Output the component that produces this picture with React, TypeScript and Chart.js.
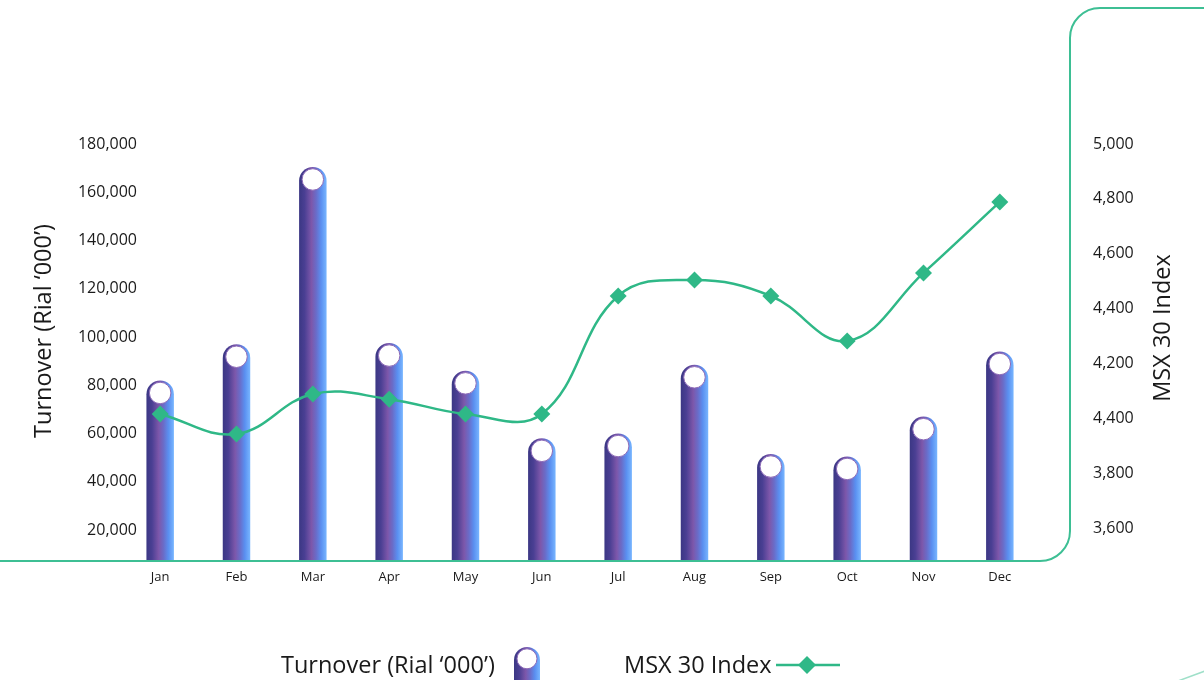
import React, { useEffect, useRef } from "react";
import { Chart, registerables } from "chart.js";

Chart.register(...registerables);

const months = ["Jan", "Feb", "Mar", "Apr", "May", "Jun", "Jul", "Aug", "Sep", "Oct", "Nov", "Dec"];
const turnover = [82000, 97000, 170500, 97500, 86000, 58000, 60000, 88500, 51500, 50500, 67000, 94000];
const msx30 = [4016, 3943, 4089, 4070, 4016, 4016, 4446, 4504, 4446, 4282, 4530, 4789];
const turnoverTicks = [20000, 40000, 60000, 80000, 100000, 120000, 140000, 160000, 180000];
const msxTicks = [3600, 3800, 4000, 4200, 4400, 4600, 4800, 5000];
const msxTickLabels = ["3,600", "3,800", "4,400", "4,200", "4,400", "4,600", "4,800", "5,000"];
const turnoverTitle = "Turnover (Rial \u2018000\u2019)";
const msxTitle = "MSX 30 Index";
const turnoverMin = 7150;
const turnoverMax = 180000;
const msxMin = 3480;
const msxMax = 5000;

const FONT = '"Open Sans", "Noto Sans", sans-serif';
const GREEN = "#2fb887";
const FRAME = "#3dbf94";
const TEXT = "#1a1a1a";

function drawPill(ctx: CanvasRenderingContext2D, x: number, top: number, bottom: number, w: number) {
  const r = w / 2;
  const g = ctx.createLinearGradient(x - r, 0, x + r, 0);
  g.addColorStop(0, "#3b3784");
  g.addColorStop(0.2, "#4a3f93");
  g.addColorStop(0.45, "#7d57aa");
  g.addColorStop(0.62, "#6a6cc8");
  g.addColorStop(0.8, "#5a8ff0");
  g.addColorStop(1, "#78b6ff");
  ctx.save();
  ctx.beginPath();
  ctx.moveTo(x - r, bottom);
  ctx.lineTo(x - r, top + r);
  ctx.arc(x, top + r, r, Math.PI, 0);
  ctx.lineTo(x + r, bottom);
  ctx.closePath();
  ctx.fillStyle = g;
  ctx.fill();
  ctx.beginPath();
  ctx.arc(x, top + r - 1.2, r - 3, 0, Math.PI * 2);
  ctx.fillStyle = "#ffffff";
  ctx.fill();
  ctx.lineWidth = 1;
  ctx.strokeStyle = "#8d6bb8";
  ctx.stroke();
  ctx.restore();
}

const pillBars = {
  id: "pillBars",
  beforeDatasetDraw(chart: any, args: any) {
    if (args.meta.type !== "bar") return;
    const ctx = chart.ctx;
    const bottom = chart.chartArea.bottom;
    args.meta.data.forEach((el: any) => {
      const p = el.getProps(["x", "y", "base", "width"], true);
      drawPill(ctx, p.x, p.y, Math.min(p.base, bottom), p.width);
    });
    return false;
  },
};

const noLabelClip = (scale: any) => {
  scale._computeLabelArea = () => undefined;
};

const decor = {
  id: "decor",
  afterDraw(chart: any) {
    const ctx: CanvasRenderingContext2D = chart.ctx;
    const bottom = chart.chartArea.bottom;
    ctx.save();
    // frame
    ctx.strokeStyle = FRAME;
    ctx.lineWidth = 2;
    ctx.beginPath();
    const vx = 1070;
    const rb = 30;
    const rt = 30;
    ctx.moveTo(0, bottom);
    ctx.lineTo(vx - rb, bottom);
    ctx.arcTo(vx, bottom, vx, bottom - rb, rb);
    ctx.lineTo(vx, 8 + rt);
    ctx.arcTo(vx, 8, vx + rt, 8, rt);
    ctx.lineTo(1204, 8);
    ctx.stroke();
    ctx.strokeStyle = "#9fe0c9";
    ctx.lineWidth = 1.5;
    ctx.beginPath();
    ctx.moveTo(1178, 681);
    ctx.lineTo(1205, 671);
    ctx.stroke();

    // axis titles
    ctx.fillStyle = TEXT;
    ctx.font = `23.5px ${FONT}`;
    ctx.textAlign = "center";
    ctx.textBaseline = "middle";
    ctx.save();
    ctx.translate(44, 331);
    ctx.rotate(-Math.PI / 2);
    ctx.fillText(turnoverTitle, 0, 0);
    ctx.restore();
    ctx.save();
    ctx.translate(1163, 328);
    ctx.rotate(-Math.PI / 2);
    ctx.fillText(msxTitle, 0, 0);
    ctx.restore();

    // legend
    const ds = chart.data.datasets;
    ctx.textAlign = "left";
    ctx.fillText(ds[1].label, 281, 666);
    drawPill(ctx, 527, 647, 700, 26);
    ctx.fillText(ds[0].label, 624, 666);
    ctx.strokeStyle = GREEN;
    ctx.lineWidth = 2.5;
    ctx.beginPath();
    ctx.moveTo(776, 665);
    ctx.lineTo(840, 665);
    ctx.stroke();
    ctx.fillStyle = GREEN;
    ctx.beginPath();
    ctx.moveTo(807, 656);
    ctx.lineTo(816, 665);
    ctx.lineTo(807, 674);
    ctx.lineTo(798, 665);
    ctx.closePath();
    ctx.fill();
    ctx.restore();
  },
};

export default function App() {
  const ref = useRef<HTMLCanvasElement | null>(null);
  useEffect(() => {
    if (!ref.current) return;
    const chart = new Chart(ref.current, {
      type: "bar",
      data: {
        labels: months,
        datasets: [
          {
            type: "line",
            label: msxTitle,
            data: msx30,
            yAxisID: "y1",
            borderColor: GREEN,
            backgroundColor: GREEN,
            borderWidth: 2.5,
            tension: 0.4,
            pointStyle: "rectRot",
            pointRadius: 8.5,
            pointBorderWidth: 0,
            pointBackgroundColor: GREEN,
            order: 0,
          } as any,
          {
            type: "bar",
            label: turnoverTitle,
            data: turnover,
            yAxisID: "y",
            backgroundColor: "#6a55b0",
            barPercentage: 0.36,
            categoryPercentage: 1,
            order: 1,
          } as any,
        ],
      },
      options: {
        animation: false,
        responsive: false,
        layout: { padding: { top: 144, left: 0, right: 0, bottom: 0 } },
        plugins: { legend: { display: false }, tooltip: { enabled: false } },
        scales: {
          x: {
            grid: { display: false, drawTicks: false },
            border: { display: false },
            ticks: { color: TEXT, font: { family: FONT, size: 13 }, padding: 8 },
            afterFit(scale: any) {
              scale.height = 119;
            },
          },
          y: {
            position: "left",
            min: turnoverMin,
            max: turnoverMax,
            grid: { display: false, drawTicks: false },
            border: { display: false },
            afterBuildTicks(scale: any) {
              scale.ticks = turnoverTicks.map((v) => ({ value: v }));
            },
            ticks: {
              color: TEXT,
              font: { family: FONT, size: 16 },
              padding: -15,
              callback: (v: any) => Number(v).toLocaleString("en-US"),
            },
            afterFit(scale: any) {
              scale.width = 122;
            },
            afterUpdate: noLabelClip,
          },
          y1: {
            position: "right",
            min: msxMin,
            max: msxMax,
            grid: { display: false, drawTicks: false },
            border: { display: false },
            afterBuildTicks(scale: any) {
              scale.ticks = msxTicks.map((v) => ({ value: v }));
            },
            ticks: {
              color: TEXT,
              font: { family: FONT, size: 16 },
              padding: 55,
              callback: (v: any) => {
                const i = msxTicks.indexOf(Number(v));
                return i >= 0 ? msxTickLabels[i] : "";
              },
            },
            afterFit(scale: any) {
              scale.width = 166;
            },
          },
        },
      },
      plugins: [pillBars, decor],
    });
    return () => chart.destroy();
  }, []);
  return (
    <div style={{ position: "fixed", left: 0, top: 0, width: 1204, height: 680, background: "#fff" }}>
      <canvas ref={ref} width={1204} height={680} />
    </div>
  );
}
